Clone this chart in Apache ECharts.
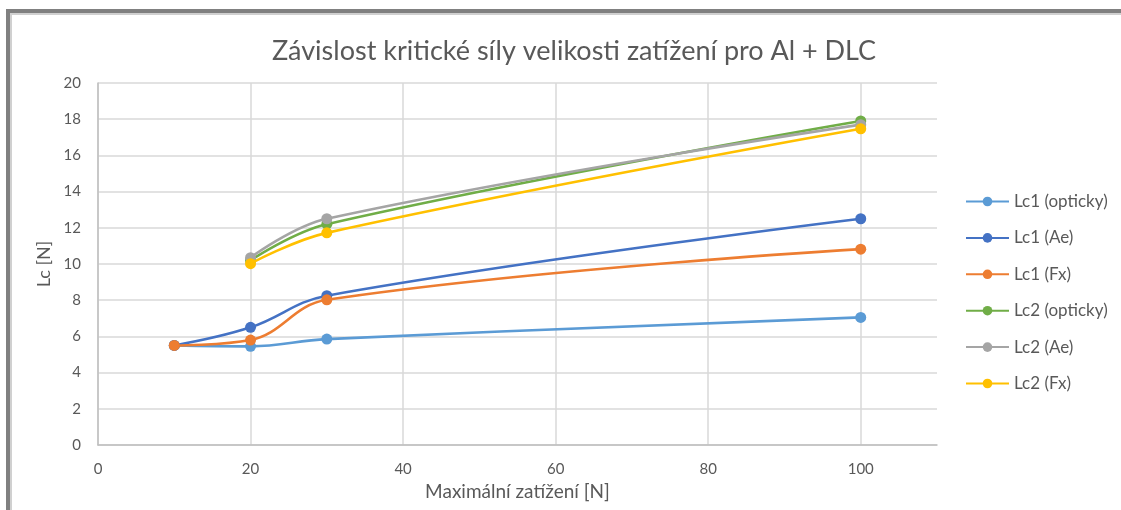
<!DOCTYPE html>
<html>
<head>
<meta charset="utf-8">
<script src="https://cdn.jsdelivr.net/npm/echarts@6/dist/echarts.min.js"></script>
<style>
  html, body { margin: 0; padding: 0; background: #fff; }
  #chart { width: 1121px; height: 510px; }
</style>
</head>
<body>
<div id="chart"></div>
<script>
// Maximum load [N] at which each critical force was measured
const loads = [10, 20, 30, 100];

// Critical forces Lc [N]; null where no value was recorded
const lc1Opticky = [5.5, 5.45, 5.85, 7.05];
const lc1Ae      = [5.5, 6.5, 8.25, 12.5];
const lc1Fx      = [5.5, 5.8, 8.02, 10.82];
const lc2Opticky = [null, 10.2, 12.2, 17.9];
const lc2Ae      = [null, 10.35, 12.5, 17.7];
const lc2Fx      = [null, 10.02, 11.72, 17.47];

const seriesNames = ['Lc1 (opticky)', 'Lc1 (Ae)', 'Lc1 (Fx)', 'Lc2 (opticky)', 'Lc2 (Ae)', 'Lc2 (Fx)'];
const seriesValues = [lc1Opticky, lc1Ae, lc1Fx, lc2Opticky, lc2Ae, lc2Fx];
const colors = ['#5B9BD5', '#4472C4', '#ED7D31', '#70AD47', '#A5A5A5', '#FFC000'];

const FONT = 'Lato, "Open Sans", sans-serif';
const TEXT = '#595959';

const chart = echarts.init(document.getElementById('chart'));

const series = seriesNames.map((name, i) => ({
  name,
  type: 'line',
  smooth: 0.4,
  connectNulls: false,
  symbol: 'circle',
  symbolSize: 11,
  lineStyle: { width: 2.6, color: colors[i] },
  itemStyle: { color: colors[i] },
  data: loads.map((x, j) => [x, seriesValues[i][j]]).filter(p => p[1] !== null),
  z: 2 + i
}));

chart.setOption({
  animation: false,
  textStyle: { fontFamily: FONT },
  title: {
    text: 'Závislost kritické síly velikosti zatížení pro Al + DLC',
    left: 569,
    top: 33,
    textAlign: 'center',
    textStyle: { fontFamily: FONT, fontSize: 27, fontWeight: 'normal', color: TEXT }
  },
  legend: {
    orient: 'vertical',
    left: 960,
    top: 188,
    itemWidth: 43,
    itemHeight: 12,
    itemGap: 19.4,
    itemStyle: { borderWidth: 0 },
    data: seriesNames.map(n => ({ name: n })),
    textStyle: { fontFamily: FONT, fontSize: 17, color: TEXT }
  },
  grid: { left: 98, right: 184, top: 83, bottom: 65, containLabel: false },
  xAxis: {
    type: 'value',
    min: 0,
    max: 110,
    interval: 20,
    name: 'Maximální zatížení [N]',
    nameLocation: 'middle',
    nameGap: 36,
    nameTextStyle: { fontFamily: FONT, fontSize: 19, color: TEXT },
    axisLine: { show: true, lineStyle: { color: '#BFBFBF', width: 1.5 } },
    axisTick: { show: false },
    axisLabel: { showMaxLabel: false, fontFamily: FONT, fontSize: 15, color: TEXT, margin: 17 },
    splitLine: { show: true, showMaxLine: false, lineStyle: { color: '#D9D9D9', width: 1.5 } }
  },
  yAxis: {
    type: 'value',
    min: 0,
    max: 20,
    interval: 2,
    name: 'Lc [N]',
    nameLocation: 'middle',
    nameGap: 36,
    nameTextStyle: { fontFamily: FONT, fontSize: 18, color: TEXT },
    axisLine: { show: true, lineStyle: { color: '#BFBFBF', width: 1.5 } },
    axisTick: { show: false },
    axisLabel: { fontFamily: FONT, fontSize: 15, color: TEXT, margin: 17 },
    splitLine: { show: true, lineStyle: { color: '#D9D9D9', width: 1.5 } }
  },
  graphic: [
    // frame around the chart area (left and top edges)
    { type: 'rect', shape: { x: 6, y: 9, width: 4, height: 510 }, style: { fill: '#808080' }, silent: true },
    { type: 'rect', shape: { x: 6, y: 9, width: 1121, height: 4 }, style: { fill: '#808080' }, silent: true },
    { type: 'rect', shape: { x: 10, y: 13, width: 2, height: 510 }, style: { fill: '#D0D0D0' }, silent: true },
    { type: 'rect', shape: { x: 10, y: 13, width: 1121, height: 2 }, style: { fill: '#D0D0D0' }, silent: true }
  ],
  series
});
</script>
</body>
</html>
